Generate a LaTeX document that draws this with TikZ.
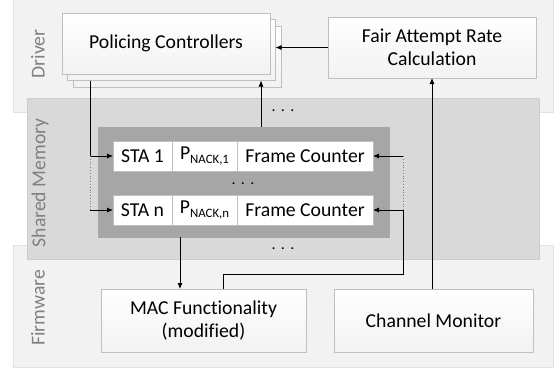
\documentclass[tikz,border=0pt]{standalone}
\usepackage{fontspec}
\setmainfont{Carlito}[Ligatures={NoCommon}]
\usetikzlibrary{arrows.meta}
\definecolor{layerL}{HTML}{F2F2F2}
\definecolor{layerLB}{HTML}{E2E2E2}
\definecolor{layerM}{HTML}{D9D9D9}
\definecolor{layerMB}{HTML}{CDCDCD}
\definecolor{darkfill}{HTML}{A6A6A6}
\definecolor{boxline}{HTML}{BFBFBF}
\definecolor{lblgray}{HTML}{808080}
\begin{document}
\begin{tikzpicture}[x=1bp,y=-1bp,
  every node/.style={inner sep=0pt, outer sep=0pt},
  lightlayer/.style={rectangle, fill=layerL, draw=layerLB, line width=0.8bp},
  midlayer/.style={rectangle, fill=layerM, draw=layerMB, line width=0.8bp},
  box/.style={rectangle, draw=boxline, line width=0.8bp, top color=white, bottom color=layerL,
    font=\fontsize{19.7bp}{23bp}\selectfont, align=center},
  cell/.style={rectangle, fill=white, draw=boxline, line width=0.6bp, minimum height=30bp,
    font=\fontsize{19.7bp}{22bp}\selectfont},
  lbl/.style={rotate=90, text=lblgray, font=\fontsize{19.7bp}{22bp}\selectfont},
  arr/.style={draw=black, line width=0.8bp, -{Latex[length=6bp,width=5bp]}},
  dotline/.style={draw=gray, line width=0.8bp, dotted},
  dots/.style={font=\fontsize{16bp}{16bp}\selectfont}
]
\useasboundingbox (0,0) rectangle (559,372);
% layers
\node[lightlayer, minimum width=540bp, minimum height=117bp] (driver) at (283,53.5) {};
\node[lightlayer, minimum width=540bp, minimum height=122bp] (firmware) at (283,306) {};
\node[midlayer, minimum width=512bp, minimum height=161bp] (shared) at (283,178.5) {};
\node[lbl] (ldriver) at (38,54) {Driver};
\node[lbl] (lshared) at (40,183) {Shared Memory};
\node[lbl] (lfirm) at (38,308) {Firmware};
% policing stack
\node[box, minimum width=208bp, minimum height=61bp] (polb) at (177,56.5) {};
\node[box, minimum width=208bp, minimum height=61bp] (polm) at (171.5,50) {};
\node[box, minimum width=208bp, minimum height=61bp] (pol) at (166,43.5) {Policing Controllers};
\node[box, minimum width=208bp, minimum height=61bp] (fair) at (432,47.5) {Fair Attempt Rate\\Calculation};
\node[box, minimum width=205bp, minimum height=63bp] (mac) at (203.5,320.5) {MAC Functionality\\(modified)};
\node[box, minimum width=199bp, minimum height=63bp] (chan) at (433.5,320.5) {Channel Monitor};
% shared memory table
\node[rectangle, fill=darkfill, draw=darkfill, minimum width=291bp, minimum height=110bp] (dark) at (243.5,182) {};
\node[cell, minimum width=59bp] (sta1) at (142.5,156) {STA 1};
\node[cell, minimum width=65bp] (p1) at (204.5,156) {P\raisebox{-4bp}{\fontsize{12.8bp}{12bp}\selectfont NACK,1}};
\node[cell, minimum width=136bp] (fc1) at (305,156) {Frame Counter};
\node[cell, minimum width=59bp] (stan) at (142.5,210) {STA n};
\node[cell, minimum width=65bp] (pn) at (204.5,210) {P\raisebox{-4bp}{\fontsize{12.8bp}{12bp}\selectfont NACK,n}};
\node[cell, minimum width=136bp] (fcn) at (305,210) {Frame Counter};
\node[dots] (dtop) at (283,111) {.\,\,.\,\,.};
\node[dots] (dmid) at (243,184) {.\,\,.\,\,.};
\node[dots] (dbot) at (283,249) {.\,\,.\,\,.};
% connectors
\coordinate (upx) at (261,0);
\coordinate (lx) at (90,0);
\coordinate (rx) at (403,0);
\coordinate (mx) at (223,274);
\coordinate (dx) at (180,0);
\draw[arr] (fair.west) -- (fair.west -| polm.east);
\draw[arr] (upx |- dark.north) -- (upx |- polm.south);
\draw[arr] (lx |- polm.south) |- (sta1.west);
\draw[dotline] (lx |- sta1.west) -- (lx |- stan.west);
\draw[arr] (lx |- stan.west) -- (stan.west);
\draw[arr] (mac.north -| mx) |- (mx -| rx) |- (fcn.east);
\draw[dotline] (rx |- fcn.east) -- (rx |- fc1.east);
\draw[arr] (rx |- fc1.east) -- (fc1.east);
\draw[arr] (dx |- dark.south) -- (dx |- mac.north);
\draw[arr] (chan.north -| fair.south) -- (fair.south);
\end{tikzpicture}
\end{document}
